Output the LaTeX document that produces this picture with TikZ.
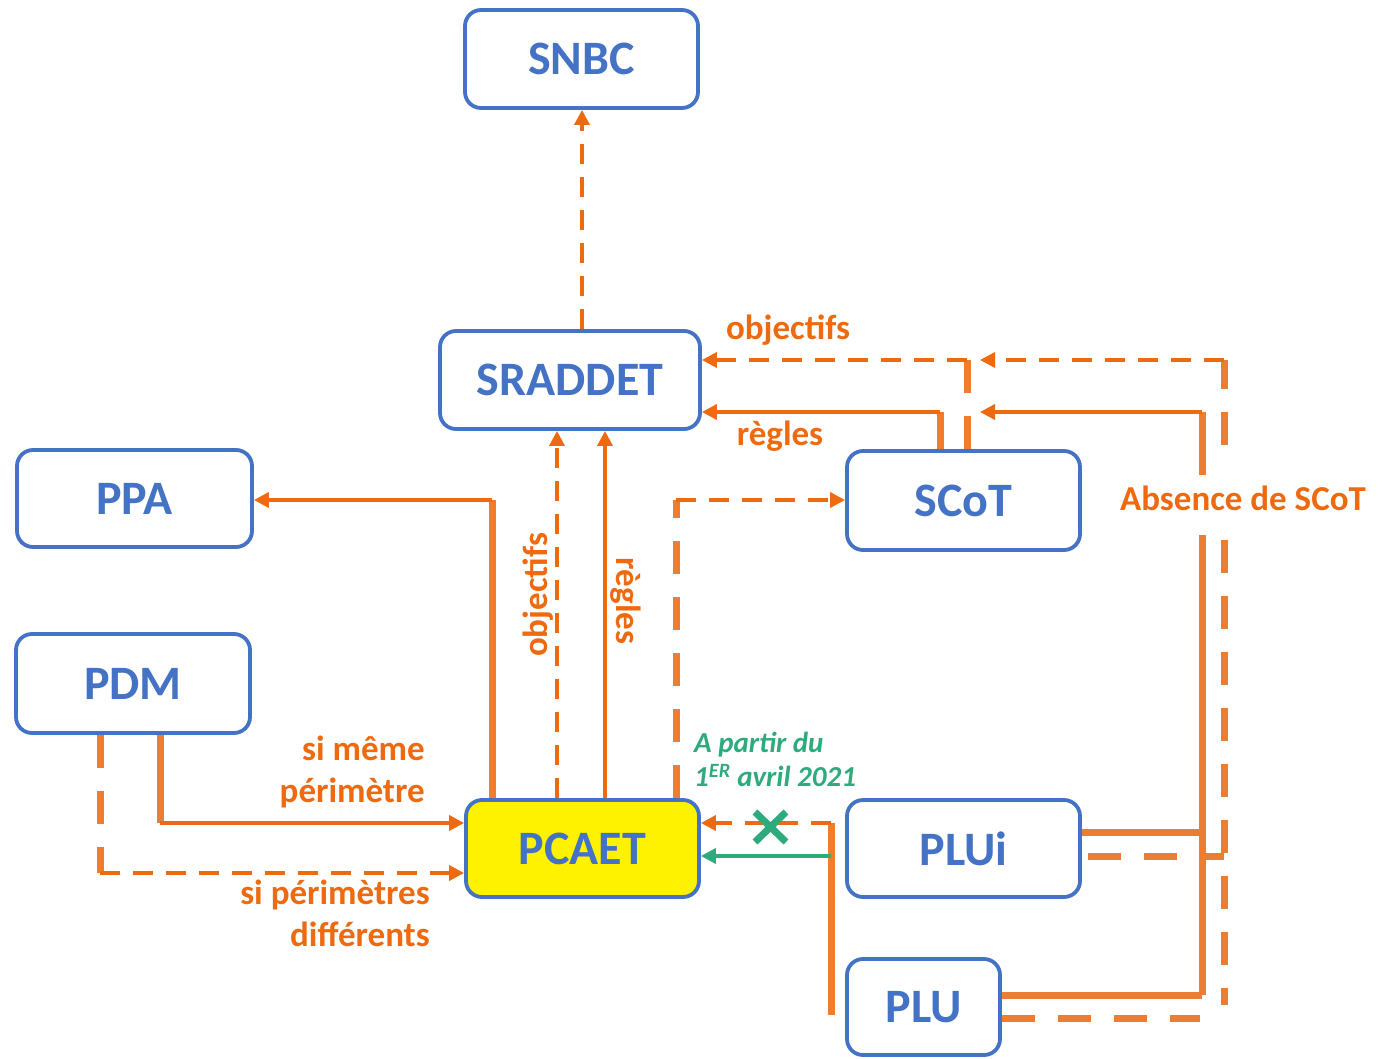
\documentclass[tikz,border=0pt]{standalone}
\usepackage{fontspec}
\setmainfont{Carlito}
\usetikzlibrary{arrows.meta}
\definecolor{boxblue}{RGB}{68,114,196}
\definecolor{arrorange}{RGB}{238,106,16}
\definecolor{thkorange}{RGB}{237,125,49}
\definecolor{txtorange}{RGB}{238,106,16}
\definecolor{grn}{RGB}{46,170,125}
\begin{document}
\begin{tikzpicture}[x=1pt,y=-1pt,
  box/.style={draw=boxblue,line width=3.8pt,rounded corners=16pt,text=boxblue,
    font=\bfseries\fontsize{48}{50}\selectfont,inner sep=0pt,fill=white},
  arr/.style={draw=arrorange,line width=3.5pt,-{Triangle[length=15pt,width=15pt]}},
  thk/.style={draw=thkorange,line width=7pt},
  thindash/.style={dash pattern=on 20pt off 13pt},
  thickdash/.style={dash pattern=on 33pt off 23pt},
  lbl/.style={text=txtorange,font=\bfseries\fontsize{35}{42}\selectfont,inner sep=0pt},
  grnlbl/.style={text=grn,font=\bfseries\itshape\fontsize{29}{34}\selectfont,inner sep=0pt,align=left}
]
\useasboundingbox (0,0) rectangle (1382,1059);

% boxes
\node[box,minimum width=233pt,minimum height=98pt] (SNBC) at (581.5,59) {SNBC};
\node[box,minimum width=260pt,minimum height=98pt] (SRADDET) at (570,380) {SRADDET};
\node[box,minimum width=235pt,minimum height=97pt] (PPA) at (134.5,498.5) {PPA};
\node[box,minimum width=234pt,minimum height=99pt] (PDM) at (133,683.5) {PDM};
\node[box,minimum width=233pt,minimum height=99pt] (SCoT) at (963.5,500.5) {SCoT};
\node[box,minimum width=233pt,minimum height=97pt,fill=yellow] (PCAET) at (582.5,848.5) {PCAET};
\node[box,minimum width=233pt,minimum height=97pt] (PLUi) at (963.5,848.5) {PLUi};
\node[box,minimum width=153pt,minimum height=96pt] (PLU) at (923.5,1007) {PLU};

% SRADDET -> SNBC
\draw[arr,thindash] (SRADDET.north -| 582,0) -- (SNBC.south -| 582,0);

% PCAET -> SRADDET
\draw[arr,thindash] (PCAET.north -| 557,0) -- (SRADDET.south -| 557,0);
\draw[arr] (PCAET.north -| 605,0) -- (SRADDET.south -| 605,0);
\node[lbl,rotate=90] (lobj) at (538,595) {objectifs};
\node[lbl,rotate=-90] (lreg) at (626,601) {règles};

% PCAET -> PPA
\coordinate (cppa) at (492,500);
\draw[thk] (PCAET.north -| cppa) -- (cppa);
\draw[arr] (cppa) -- (PPA.east |- cppa);

% PDM -> PCAET
\coordinate (pdmS) at (160,823);
\draw[thk] (PDM.south -| pdmS) -- (pdmS);
\draw[arr] (pdmS) -- (PCAET.west |- pdmS);
\coordinate (pdmD) at (100,873);
\draw[thk,thickdash] (PDM.south -| pdmD) -- (pdmD);
\draw[arr,thindash] (pdmD) -- (PCAET.west |- pdmD);
\node[lbl,anchor=east,align=right] (lsm) at (425,772) {si même\\périmètre};
\node[lbl,anchor=east,align=right] (lsp) at (430,913) {si périmètres\\différents};

% PCAET -> SCoT
\coordinate (scD) at (676,500);
\draw[thk,thickdash] (PCAET.north -| scD) -- (scD);
\draw[arr,thindash] (scD) -- (SCoT.west |- scD);

% SCoT -> SRADDET
\coordinate (srR) at (940,412);
\draw[thk] (SCoT.north -| srR) -- (srR);
\draw[arr] (srR) -- (SRADDET.east |- srR);
\coordinate (srO) at (967,360);
\draw[thk,thickdash] (SCoT.north -| srO) -- (srO);
\draw[arr,thindash] (srO) -- (SRADDET.east |- srO);
\node[lbl] (lobj2) at (788,330) {objectifs};
\node[lbl] (lreg2) at (780,436) {règles};

% Absence de SCoT
\node[lbl] (abs) at (1243,498) {Absence de SCoT};
\coordinate (aR1) at (1202,412);
\coordinate (aRt) at (980,412);
\coordinate (aRtop) at (1202,475);
\coordinate (aRbot) at (1202,535);
\coordinate (aR2) at (1202,832);
\coordinate (aR3) at (1202,995);
\draw[thk] (aRtop) -- (aR1);
\draw[arr] (aR1) -- (aRt);
\draw[thk] (aRbot) -- (aR3);
\draw[thk] (PLUi.east |- aR2) -- (aR2);
\draw[thk] (PLU.east |- aR3) -- (aR3);
\coordinate (aD1) at (1224,360);
\coordinate (aDt) at (980,360);
\coordinate (aDtop) at (1224,445);
\coordinate (aDbot) at (1224,540);
\coordinate (aD2) at (1224,856);
\coordinate (aD3) at (1224,1005);
\coordinate (aD4) at (1200,1018);
\draw[thk,thickdash] (aDtop) -- (aD1);
\draw[arr,thindash] (aD1) -- (aDt);
\draw[thk,thickdash] (aDbot) -- (aD3);
\draw[thk,thickdash] ([xshift=6pt]PLUi.east |- aD2) -- (aD2);
\draw[thk,thickdash] (PLU.east |- aD4) -- (aD4);

% PLUi/PLU -> PCAET
\coordinate (pl1) at (831,823);
\coordinate (pl2) at (831,856);
\coordinate (pl3) at (831,1015);
\draw[thk] (pl1) -- (pl3);
\draw[arr,thindash] (pl1) -- (PCAET.east |- pl1);
\draw[arr,draw=grn,-{Triangle[length=15pt,width=15pt]}] (pl2) -- (PCAET.east |- pl2);
\draw[grn,line width=7pt] (755,812) -- (786,842) (755,842) -- (786,812);
\node[grnlbl,anchor=north west] (gtxt) at (694,732) {A partir du\\1\textsuperscript{ER} avril 2021};
\end{tikzpicture}
\end{document}
